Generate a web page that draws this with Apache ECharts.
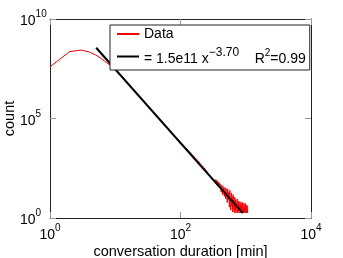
<!DOCTYPE html>
<html><head><meta charset="utf-8">
<script src="https://cdn.jsdelivr.net/npm/echarts@6/dist/echarts.min.js"></script>
<style>html,body{margin:0;padding:0;background:#fff}#c{width:343px;height:258px}</style>
</head><body><div id="c"></div>
<script>
// conversation duration (minutes) and count
const durationMin = [1,2,3,4,5,6,7,8,9,10,12,15,20,25,30,40,50,60,70,80,100,120,150,180,200,230,
  250,256,262,268,274,280,286,292,298,304,310,316,322,328,334,340,346,352,358,364,370,376,382,388,394,400,
  410,420,430,440,450,460,470,480,490,500,510,520,530,540,550,560,570,580,590,600,610,620,630,640,650,660,670,680,690,700,
  710,720,730,740,750,760,770,780,790,800,810,820,830,840,850,860,870,880,890,900,910,920,930,940,950,960,970,980,990,1000,
  1010,1020,1030,1040,1050,1060,1070];
const countValues = [4e7,2.3e8,2.75e8,2.2e8,1.55e8,1.07e8,7.2e7,5.2e7,4.0e7,3.0e7,1.55e7,6.7e6,2.3e6,1.0e6,5.1e5,1.78e5,7.9e4,4.0e4,2.3e4,1.4e4,6.2e3,3.5e3,1.55e3,800,540,330,
  230,190,215,165,185,140,160,118,140,100,120,85,105,70,95,62,85,52,78,46,70,40,62,36,58,32,
  48,20,44,15,38,22,12,34,9,30,14,6,28,8,20,3.5,24,5,2.5,18,4,12,2,15,3,9,1.8,11,2.5,8,
  1.8,6,3,9,1.8,5,2.2,7,1.8,4.5,2.5,6.5,1.8,4,1.8,5.5,2.3,3.5,1.8,6,1.8,3.2,1.8,5,2.2,3,1.8,5.5,1.8,2.8,
  4.5,1.8,3.5,1.8,4.2,1.8,2.5];
// fitted power law line end points
const fitX = [5.1, 898];
const fitY = [3.6e8, 1.77];
const seriesNames = ['Data', 'Fit'];
const fitLabel = '{m|= 1.5e11 x}{sup|\u22123.70}{m|    R}{sup2|2}{m|=0.99}';
const xLabelTitle = 'conversation duration [min]';
const yLabelTitle = 'count';

const FONT = 'Liberation Sans';
const supStyle = {fontFamily: FONT, fontSize: 10, color: '#000', padding: [0,0,9,0], verticalAlign: 'bottom'};
const baseStyle = {fontFamily: FONT, fontSize: 14, color: '#000', verticalAlign: 'bottom'};
function powLabel(v) {
  return '{b|10}{sup|' + Math.round(Math.log10(v)) + '}';
}
const chart = echarts.init(document.getElementById('c'), null, {renderer: 'canvas'});
const axisLineStyle = {lineStyle: {color: '#222', width: 1}};
const tickStyle = {show: true, inside: true, length: 6, lineStyle: {color: '#999'}};
chart.setOption({
  animation: false,
  backgroundColor: '#fff',
  textStyle: {fontFamily: FONT},
  grid: {left: 50, right: 32, top: 19, bottom: 40, containLabel: false, outerBoundsMode: 'none'},
  legend: {
    show: true,
    orient: 'vertical', left: 110, top: 25,
    padding: [2, 4, 4, 6], itemGap: 6, itemWidth: 22, itemHeight: 14,
    backgroundColor: '#fff', borderColor: '#222', borderWidth: 1,
    itemStyle: {opacity: 0},
    data: seriesNames,
    formatter: function (n) { return n === seriesNames[0] ? seriesNames[0] : fitLabel; },
    textStyle: {fontFamily: FONT, fontSize: 14, color: '#000',
      rich: {
        m: {fontFamily: FONT, fontSize: 14, color: '#000', verticalAlign: 'bottom'},
        sup: {fontFamily: FONT, fontSize: 12, color: '#000', padding: [0,0,7,0], verticalAlign: 'bottom'},
        sup2: {fontFamily: FONT, fontSize: 10, color: '#000', padding: [0,0,8,0], verticalAlign: 'bottom'}
      }}
  },
  xAxis: [{
    type: 'log', logBase: 10, min: 1, max: 10000, interval: 2,
    name: xLabelTitle, nameLocation: 'middle', nameGap: 26, nameMoveOverlap: false,
    nameTextStyle: {fontFamily: FONT, fontSize: 14.5, color: '#000'},
    axisLine: axisLineStyle, axisTick: tickStyle, splitLine: {show: false},
    minorTick: {show: false},
    axisLabel: {margin: 5, formatter: powLabel, rich: {b: baseStyle, sup: supStyle}}
  }, {
    type: 'log', logBase: 10, min: 1, max: 10000, interval: 2, position: 'top',
    axisLine: axisLineStyle, axisTick: tickStyle, splitLine: {show: false}, axisLabel: {show: false}
  }],
  yAxis: [{
    type: 'log', logBase: 10, min: 1, max: 1e10, interval: 5,
    name: yLabelTitle, nameLocation: 'middle', nameGap: 33, nameRotate: 90, nameMoveOverlap: false,
    nameTextStyle: {fontFamily: FONT, fontSize: 14.5, color: '#000'},
    axisLine: axisLineStyle, axisTick: tickStyle, splitLine: {show: false},
    axisLabel: {margin: 30, align: 'left', formatter: powLabel, rich: {b: baseStyle, sup: supStyle}}
  }, {
    type: 'log', logBase: 10, min: 1, max: 1e10, interval: 5, position: 'right',
    axisLine: axisLineStyle, axisTick: tickStyle, splitLine: {show: false}, axisLabel: {show: false}
  }],
  series: [{
    name: seriesNames[0], type: 'line', symbol: 'none', xAxisIndex: 0, yAxisIndex: 0,
    lineStyle: {color: '#ff0000', width: 1}, itemStyle: {color: '#ff0000'},
    data: durationMin.map((d, i) => [d, countValues[i]])
  }, {
    name: seriesNames[1], type: 'line', symbol: 'none', xAxisIndex: 0, yAxisIndex: 0,
    lineStyle: {color: '#000', width: 2}, itemStyle: {color: '#000'},
    data: fitX.map((d, i) => [d, fitY[i]])
  }]
});
</script></body></html>
